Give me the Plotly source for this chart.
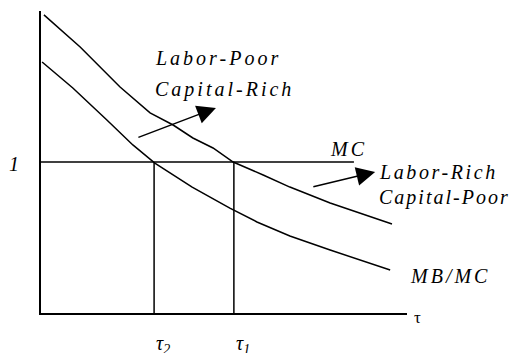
import plotly.graph_objects as go

# curve points (tau on x, value on y, MC level = 1)
poor_x = [0.08, 1.07, 2.16, 2.98, 3.61, 4.15, 4.70, 5.25, 6.07, 6.80, 7.90, 9.59]
poor_y = [1.974, 1.762, 1.497, 1.325, 1.245, 1.159, 1.093, 1.0, 0.914, 0.834, 0.728, 0.589]
rich_x = [0.03, 0.87, 1.80, 2.51, 3.11, 4.13, 5.16, 5.90, 6.80, 7.90, 9.54]
rich_y = [1.662, 1.490, 1.278, 1.113, 0.993, 0.834, 0.695, 0.603, 0.510, 0.417, 0.285]
mc_x = [0, 8.55]
mc_y = [1, 1]
tau2 = 3.09
tau1 = 5.27


def spaced(s, gap=3):
    return '<span style="letter-spacing:%gpx">' % gap + s + "</span>"


# plot area is 366 x 302 px, x range 0..10, y range 0..2
def px(x):
    return x / 10


def py(y):
    return y / 2


serif = dict(family="Times New Roman", size=20, color="black", style="italic")
black = dict(color="black", width=1.5)

fig = go.Figure()
fig.add_trace(go.Scatter(x=poor_x, y=poor_y, mode="lines", line=black, hoverinfo="skip"))
fig.add_trace(go.Scatter(x=rich_x, y=rich_y, mode="lines", line=black, hoverinfo="skip"))
fig.add_trace(go.Scatter(x=mc_x, y=mc_y, mode="lines", line=black, hoverinfo="skip"))
for t in [tau2, tau1]:
    fig.add_trace(go.Scatter(x=[t, t], y=[0, 1], mode="lines", line=black, hoverinfo="skip"))

# arrows: (tail x, tail y, tip x, tip y)
arrows = [(2.62, 1.159, 4.78, 1.358), (7.40, 0.834, 9.13, 0.934)]
for ax0, ay0, x1, y1 in arrows:
    fig.add_annotation(x=x1, y=y1, ax=ax0, ay=ay0, xref="x", yref="y", axref="x", ayref="y",
                       text="", showarrow=True, arrowhead=2, arrowsize=2.5, arrowwidth=1.5,
                       arrowcolor="black")

labels = [
    ("Labor-Poor", 3.06, 1.689, 3),
    ("Capital-Rich", 3.06, 1.477, 3),
    ("MC", 7.84, 1.086, 3),
    ("Labor-Rich", 9.18, 0.934, 2.6),
    ("Capital-Poor", 9.18, 0.768, 2),
    ("MB/MC", 10.03, 0.245, 3),
]
for txt, lx, ly, gap in labels:
    fig.add_annotation(x=px(lx), y=py(ly), xref="paper", yref="paper", text=spaced(txt, gap),
                       showarrow=False, xanchor="left", yanchor="middle", font=serif)

fig.add_annotation(x=px(-0.74), y=py(0.99), xref="paper", yref="paper", text="1", showarrow=False,
                   xanchor="center", yanchor="middle", font=serif)
fig.add_annotation(x=px(10.3), y=py(-0.03), xref="paper", yref="paper", text="\u03c4",
                   showarrow=False, xanchor="center", yanchor="middle",
                   font=dict(family="Times New Roman", size=17, color="black"))
fig.add_annotation(x=px(3.33), y=py(-0.21), xref="paper", yref="paper", text="\u03c4<sub>2</sub>",
                   showarrow=False, xanchor="center", yanchor="middle", font=serif)
fig.add_annotation(x=px(5.52), y=py(-0.21), xref="paper", yref="paper", text="\u03c4<sub>1</sub>",
                   showarrow=False, xanchor="center", yanchor="middle", font=serif)

fig.update_layout(
    width=513, height=345,
    margin=dict(l=33, r=114, t=3, b=40),
    showlegend=False,
    paper_bgcolor="white",
    plot_bgcolor="white",
    xaxis=dict(range=[0, 10], showline=True, linecolor="black", linewidth=1.5,
               showgrid=False, zeroline=False, showticklabels=False, ticks=""),
    yaxis=dict(range=[0, 2], showline=True, linecolor="black", linewidth=1.5,
               showgrid=False, zeroline=False, showticklabels=False, ticks=""),
)

fig.write_html("out.html")
